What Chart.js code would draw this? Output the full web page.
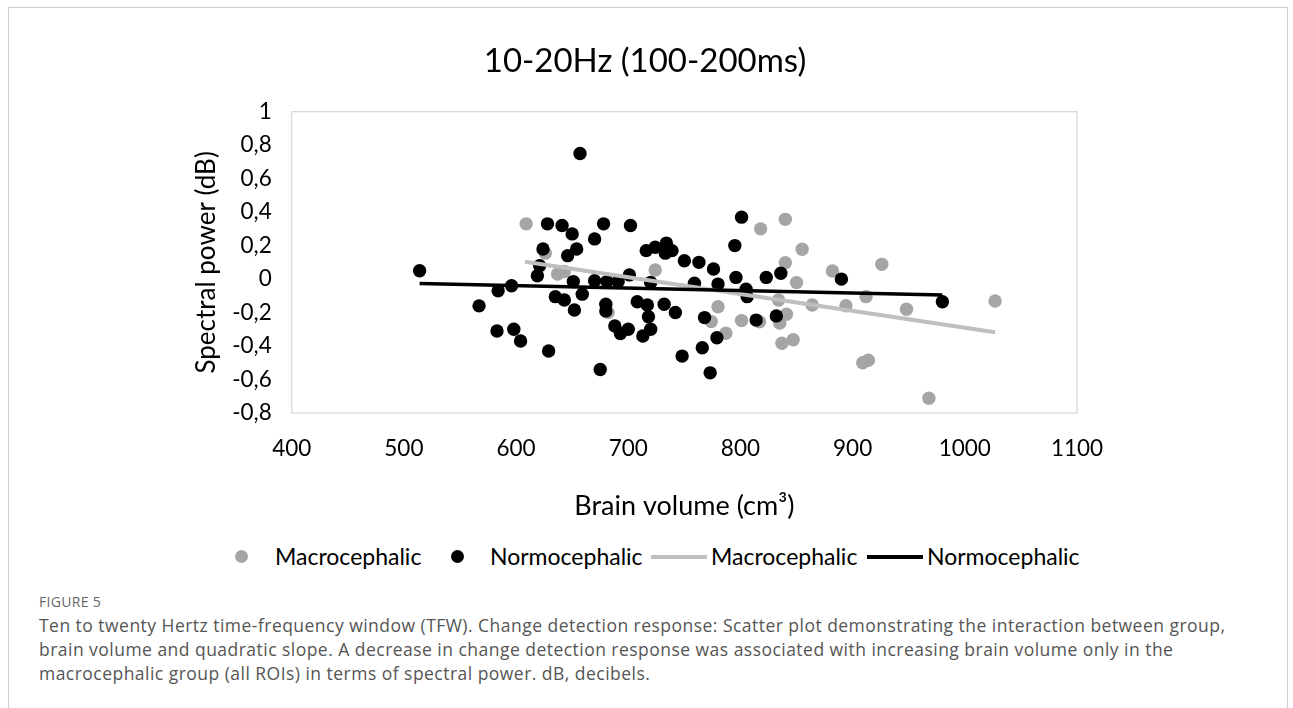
<!DOCTYPE html>
<html>
<head>
<meta charset="utf-8">
<script src="https://cdn.jsdelivr.net/npm/chart.js@4"></script>
<style>
  body { margin: 0; background: #fff; font-family: Lato, sans-serif; }
  #frame { position: absolute; left: 8px; top: 7px; width: 1278px; height: 720px;
           border: 1px solid #cfcfcf; border-bottom: none; }
  #wrap { position: absolute; left: 0; top: 0; width: 1293px; height: 530px; }
  #titulo { position: absolute; left: 345px; width: 600px; top: 39px; text-align: center;
            font-size: 33px; line-height: 40px; color: #000; }
  .leg { position: absolute; top: 543px; font-size: 23px; color: #000; line-height: 27px; white-space: nowrap; }
  .dot { position: absolute; top: 550px; width: 13px; height: 13px; border-radius: 50%; }
  .ln { position: absolute; top: 555px; height: 4px; width: 56px; }
  #fig { position: absolute; left: 39px; top: 592px; font-family: "Open Sans", sans-serif;
         font-size: 14px; color: #666; letter-spacing: 0.3px; }
  #cap { position: absolute; left: 39px; top: 614px; font-family: "Open Sans", sans-serif;
         font-size: 17.5px; line-height: 23.8px; color: #555; letter-spacing: 0.47px; white-space: nowrap; }
</style>
</head>
<body>
<div id="frame"></div>
<div id="wrap"><canvas id="grafico" width="1293" height="530"></canvas></div>
<div id="titulo">10-20Hz (100-200ms)</div>

<span class="dot" style="left:235px;background:#a5a5a5"></span>
<span class="leg" style="left:275px">Macrocephalic</span>
<span class="dot" style="left:451px;background:#000"></span>
<span class="leg" style="left:490px">Normocephalic</span>
<span class="ln" style="left:651px;background:#bfbfbf"></span>
<span class="leg" style="left:711px">Macrocephalic</span>
<span class="ln" style="left:867px;background:#000"></span>
<span class="leg" style="left:927px">Normocephalic</span>

<div id="fig">FIGURE 5</div>
<div id="cap">Ten to twenty Hertz time-frequency window (TFW). Change detection response: Scatter plot demonstrating the interaction between group,<br>brain volume and quadratic slope. A decrease in change detection response was associated with increasing brain volume only in the<br>macrocephalic group (all ROIs) in terms of spectral power. dB, decibels.</div>

<script>
// Macrocephalic group (grey dots)
const macroX = [609, 626, 637, 643, 682, 724, 774, 780, 787, 801, 817, 818, 834, 835, 837, 840, 840, 841, 847, 850, 855, 864, 882, 894, 909, 912, 914, 926, 948, 968, 1027];
const macroY = [0.33, 0.155, 0.03, 0.045, -0.20, 0.054, -0.254, -0.165, -0.324, -0.248, -0.255, 0.30, -0.125, -0.262, -0.383, 0.357, 0.098, -0.21, -0.362, -0.021, 0.178, -0.155, 0.048, -0.159, -0.50, -0.105, -0.485, 0.088, -0.18, -0.712, -0.131];

// Normocephalic group (black dots)
const normoX = [514, 567, 583, 584, 596, 598, 604, 619, 621, 624, 628, 629, 635, 641, 643, 646, 650, 651, 652, 654, 657, 659, 670, 670, 675, 678, 680, 680, 681, 688, 691, 693, 700, 701, 702, 708, 713, 716, 717, 718, 720, 720, 724, 732, 733, 734, 739, 742, 748, 750, 759, 763, 766, 768, 773, 776, 779, 780, 795, 796, 801, 805, 806, 814, 823, 832, 836, 890, 980];
const normoY = [0.05, -0.16, -0.31, -0.07, -0.04, -0.30, -0.37, 0.02, 0.08, 0.18, 0.33, -0.43, -0.105, 0.32, -0.125, 0.14, 0.27, -0.015, -0.185, 0.18, 0.75, -0.09, 0.24, -0.01, -0.54, 0.33, -0.15, -0.19, -0.015, -0.28, -0.015, -0.325, -0.30, 0.025, 0.32, -0.135, -0.34, 0.17, -0.155, -0.225, -0.30, -0.02, 0.19, -0.15, 0.155, 0.215, 0.17, -0.20, -0.46, 0.11, -0.025, 0.10, -0.41, -0.23, -0.56, 0.06, -0.35, -0.03, 0.20, 0.01, 0.37, -0.06, -0.105, -0.245, 0.01, -0.22, 0.035, 0.0, -0.135];

// trend lines (ends)
const macroTrendX = [608, 1027];
const macroTrendY = [0.104, -0.318];
const normoTrendX = [514, 980];
const normoTrendY = [-0.027, -0.095];

const xTicks = [400, 500, 600, 700, 800, 900, 1000, 1100];
const yTicks = [1, 0.8, 0.6, 0.4, 0.2, 0, -0.2, -0.4, -0.6, -0.8];

function pontos(xs, ys) {
  return xs.map((x, i) => ({ x: x, y: ys[i] }));
}

const moldura = {
  id: 'moldura',
  beforeDatasetsDraw(chart) {
    const a = chart.chartArea;
    const ctx = chart.ctx;
    ctx.save();
    ctx.strokeStyle = '#d9d9d9';
    ctx.lineWidth = 1.3;
    ctx.strokeRect(a.left, a.top, a.right - a.left, a.bottom - a.top);
    ctx.restore();
  }
};

const ctx = document.getElementById('grafico').getContext('2d');

new Chart(ctx, {
  type: 'scatter',
  data: {
    datasets: [
      {
        label: 'Normocephalic',
        data: pontos(normoTrendX, normoTrendY),
        showLine: true,
        borderColor: '#000',
        borderWidth: 3.5,
        pointRadius: 0,
        order: 0
      },
      {
        label: 'Macrocephalic',
        data: pontos(macroTrendX, macroTrendY),
        showLine: true,
        borderColor: '#bfbfbf',
        borderWidth: 4,
        pointRadius: 0,
        order: 1
      },
      {
        label: 'Normocephalic',
        data: pontos(normoX, normoY),
        backgroundColor: '#000',
        borderColor: '#000',
        borderWidth: 0,
        pointRadius: 6.7,
        order: 2
      },
      {
        label: 'Macrocephalic',
        data: pontos(macroX, macroY),
        backgroundColor: '#a5a5a5',
        borderColor: '#a5a5a5',
        borderWidth: 0,
        pointRadius: 6.7,
        order: 3
      }
    ]
  },
  options: {
    responsive: false,
    animation: false,
    layout: { padding: { left: 187, right: 216, top: 111.7, bottom: 0 } },
    plugins: {
      legend: { display: false },
      tooltip: { enabled: false }
    },
    scales: {
      x: {
        type: 'linear',
        min: 400,
        max: 1100,
        afterBuildTicks: s => { s.ticks = xTicks.map(v => ({ value: v })); },
        afterFit: s => { s.height = 117; },
        grid: { display: false },
        border: { display: false },
        ticks: {
          color: '#000',
          font: { family: 'Lato', size: 22.5 },
          padding: 14,
          callback: v => String(v)
        },
        title: {
          display: true,
          text: 'Brain volume (cm³)',
          color: '#000',
          font: { family: 'Lato', size: 27 },
          padding: { top: 8, bottom: 8 }
        }
      },
      y: {
        type: 'linear',
        min: -0.8,
        max: 1,
        afterBuildTicks: s => { s.ticks = yTicks.map(v => ({ value: v })); },
        afterFit: s => { s.width = 104.7; },
        grid: { display: false },
        border: { display: false },
        ticks: {
          color: '#000',
          font: { family: 'Lato', size: 22.5 },
          padding: 12,
          callback: v => String(Math.round(v * 10) / 10).replace('.', ',')
        },
        title: {
          display: true,
          text: 'Spectral power (dB)',
          color: '#000',
          font: { family: 'Lato', size: 26 },
          padding: { top: 4, bottom: 4 }
        }
      }
    }
  },
  plugins: [moldura]
});
</script>
</body>
</html>
